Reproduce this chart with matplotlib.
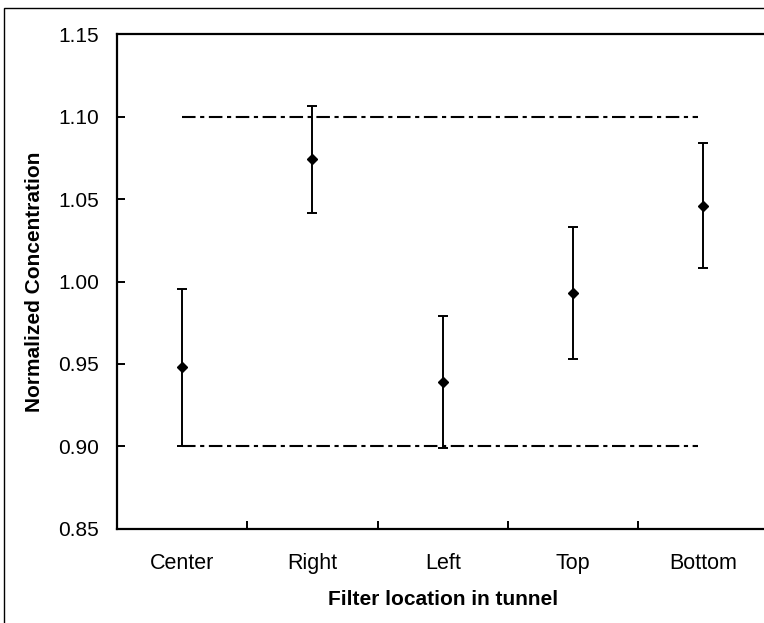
import matplotlib.pyplot as plt
from matplotlib.patches import Rectangle

plt.rcParams['font.family'] = ['Liberation Sans', 'DejaVu Sans']

# data
locations = ['Center', 'Right', 'Left', 'Top', 'Bottom']
conc = [0.948, 1.074, 0.939, 0.993, 1.046]
err = [0.0475, 0.0325, 0.040, 0.040, 0.038]
limit_lo = 0.90
limit_hi = 1.10

fig = plt.figure(figsize=(7.64, 6.23), dpi=100)
ax = fig.add_axes([0.1531, 0.1509, 0.8527, 0.7945])

# outer frame (cropped on right/bottom)
fig.patches.append(Rectangle((4 / 764, -0.1), 1.2, 1 - 8 / 623 + 0.1,
                             transform=fig.transFigure, fill=False,
                             edgecolor='black', linewidth=1.0))

x = list(range(len(locations)))
ax.errorbar(x, conc, yerr=err, fmt='D', color='black', markersize=5,
            elinewidth=1.4, capsize=3.5, capthick=1.4)

# limit lines
for lim in (limit_lo, limit_hi):
    ax.plot([0, 3.96], [lim, lim], color='black', linewidth=1.5,
            dashes=(6.5, 2.2, 2, 2.2))

ax.set_xlim(-0.5, 4.5)
ax.set_ylim(0.85, 1.15)
ax.set_yticks([0.85, 0.90, 0.95, 1.00, 1.05, 1.10, 1.15])
ax.set_yticklabels(['%.2f' % v for v in ax.get_yticks()])
ax.set_xticks([i - 0.5 for i in range(6)])
ax.set_xticklabels([])
ax.set_xticks(x, minor=True)
ax.set_xticklabels(locations, minor=True)

ax.tick_params(axis='both', which='major', direction='in', length=6,
               width=1.4, labelsize=15)
ax.tick_params(axis='x', which='minor', length=0, labelsize=15.5, pad=17)
ax.tick_params(axis='y', pad=13)

for s in ('left', 'top', 'bottom'):
    ax.spines[s].set_linewidth(1.6)
ax.spines['right'].set_visible(False)

ax.set_xlabel('Filter location in tunnel', fontsize=15, fontweight='bold',
              labelpad=12)
ax.set_ylabel('Normalized Concentration', fontsize=15, fontweight='bold')
ax.yaxis.set_label_coords(-0.112, 0.5)

fig.savefig('out.png', dpi=100)
